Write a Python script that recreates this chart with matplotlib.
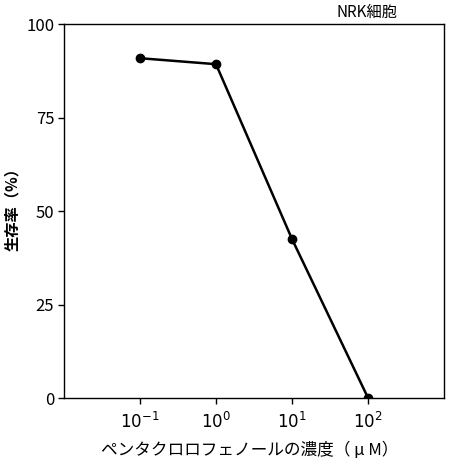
import matplotlib
matplotlib.use("Agg")
import matplotlib.pyplot as plt

plt.rcParams["font.family"] = ["Noto Sans CJK JP", "DejaVu Sans"]

conc = [0.1, 1, 10, 100]
survival = [90.9, 89.3, 42.5, 0.0]
yticks = [0, 25, 50, 75, 100]
xticks = [0.1, 1, 10, 100]
xticklabels = ["$10^{-1}$", "$10^{0}$", "$10^{1}$", "$10^{2}$"]

fig = plt.figure(figsize=(4.5, 4.65), dpi=100)
ax = fig.add_axes([0.142, 0.144, 0.845, 0.804])

ax.plot(conc, survival, color="k", linewidth=1.8, marker="o", markersize=6)
ax.set_xscale("log")
ax.set_xlim(10**-2, 10**3)
ax.set_ylim(0, 100)
ax.set_xticks(xticks)
ax.set_xticklabels(xticklabels, fontsize=12)
ax.minorticks_off()
ax.set_yticks(yticks)
ax.set_yticklabels([str(v) for v in yticks], fontsize=12)
ax.tick_params(direction="out", length=4, width=1, pad=3)
ax.tick_params(axis="x", pad=6)
for s in ax.spines.values():
    s.set_linewidth(1)

fig.text(12 / 450, 1 - 205 / 465, "生存率（%）", rotation=90, fontsize=11,
         fontweight="bold", ha="center", va="center")
fig.text(250 / 450, 1 - 450 / 465, "ペンタクロロフェノールの濃度（ μ M）", fontsize=12,
         ha="center", va="center")
fig.text(367 / 450, 1 - 12 / 465, "NRK細胞", fontsize=11,
         ha="center", va="center")

fig.savefig("out.png", dpi=100)
